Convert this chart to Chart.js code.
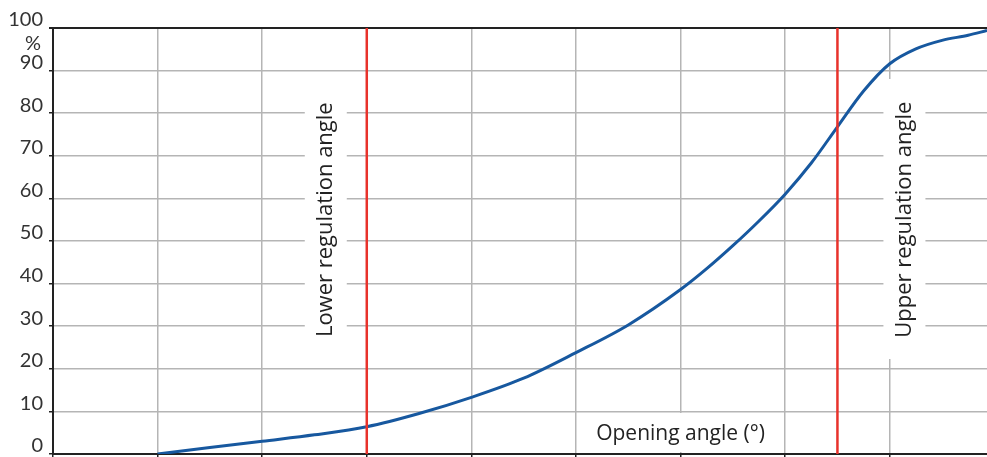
<!DOCTYPE html>
<html>
<head>
<meta charset="utf-8">
<script src="https://cdn.jsdelivr.net/npm/chart.js@4"></script>
<style>
  html, body { margin: 0; padding: 0; background: #fff; }
</style>
</head>
<body>
<canvas id="chart" width="987" height="457"></canvas>
<script>
// Opening angle (deg) vs flow (%)
const angles = [10, 20, 25, 30, 35, 40, 45, 50, 55, 60, 62.5, 65, 67.5, 70, 72.5, 75, 77.5, 80, 82.5, 85, 87.5, 89.3];
const flow   = [0, 3.0, 4.5, 6.4, 9.5, 13.3, 17.8, 23.8, 30.3, 38.6, 43.5, 48.9, 54.7, 61.0, 68.3, 76.8, 85.2, 91.6, 95.1, 97.1, 98.3, 99.4];

const yTicks = [0, 10, 20, 30, 40, 50, 60, 70, 80, 90, 100];
const xGrid = [0, 10, 20, 30, 40, 50, 60, 70, 80];
const lowerAngle = 30;
const upperAngle = 75;

const tickFont = 'Lato';

// white-backed labels drawn on top of the grid
const labelsPlugin = {
  id: 'labels',
  beforeDatasetsDraw(chart) {
    const ctx = chart.ctx;
    const xs = chart.scales.x, ys = chart.scales.y;
    ctx.save();

    function vLabel(text, cx) {
      ctx.fillStyle = '#fff';
      ctx.fillRect(cx - 21, 79, 42, 280);
      ctx.save();
      ctx.translate(cx, ys.getPixelForValue(55));
      ctx.rotate(-Math.PI / 2);
      ctx.fillStyle = '#222';
      ctx.font = '22px "Open Sans"';
      ctx.textAlign = 'center';
      ctx.textBaseline = 'middle';
      ctx.fillText(text, 0, 0);
      ctx.restore();
    }
    vLabel('Lower regulation angle', xs.getPixelForValue(lowerAngle) - 41);
    vLabel('Upper regulation angle', xs.getPixelForValue(upperAngle) + 67);

    // x axis title inside the plot
    const cx = xs.getPixelForValue(60);
    ctx.fillStyle = '#fff';
    ctx.fillRect(cx - 96, 413, 192, 39);
    ctx.fillStyle = '#222';
    ctx.font = '21px "Open Sans"';
    ctx.textAlign = 'center';
    ctx.textBaseline = 'middle';
    ctx.fillText('Opening angle (\u00b0)', cx, 434);

    // unit under the top tick
    ctx.font = '20px ' + tickFont;
    ctx.fillStyle = '#333';
    ctx.fillText('%', 33, 44);
    ctx.restore();
  }
};

new Chart(document.getElementById('chart'), {
  type: 'line',
  data: {
    datasets: [
      {
        data: [{ x: lowerAngle, y: 0 }, { x: lowerAngle, y: 100 }],
        borderColor: '#e8322b',
        borderWidth: 2.5,
        pointRadius: 0,
        order: 0
      },
      {
        data: [{ x: upperAngle, y: 0 }, { x: upperAngle, y: 100 }],
        borderColor: '#e8322b',
        borderWidth: 2.5,
        pointRadius: 0,
        order: 0
      },
      {
        data: angles.map((a, i) => ({ x: a, y: flow[i] })),
        borderColor: '#17589f',
        borderWidth: 3,
        pointRadius: 0,
        cubicInterpolationMode: 'monotone',
        order: 1
      }
    ]
  },
  options: {
    responsive: false,
    animation: false,
    layout: { padding: { top: 28, left: 0, right: 0, bottom: 0 } },
    plugins: {
      legend: { display: false },
      tooltip: { enabled: false }
    },
    scales: {
      x: {
        type: 'linear',
        min: 0,
        max: 89.3,
        afterBuildTicks: s => { s.ticks = xGrid.map(v => ({ value: v })); },
        afterFit: s => { s.height = 3; s.paddingLeft = 0; s.paddingRight = 0; },
        ticks: { display: false },
        grid: { color: '#b5b5b5', lineWidth: 1.5, tickLength: 3, tickColor: '#222' },
        border: { color: '#222', width: 2 }
      },
      y: {
        min: 0,
        max: 100,
        afterBuildTicks: s => { s.ticks = yTicks.map(v => ({ value: v })); },
        afterFit: s => { s.width = 53; s.paddingTop = 0; s.paddingBottom = 0; },
        ticks: {
          padding: 6,
          labelOffset: -8,
          color: '#333',
          font: { family: tickFont, size: 20 }
        },
        grid: {
          color: c => c.tick && c.tick.value === 100 ? '#222' : '#b5b5b5',
          lineWidth: c => c.tick && c.tick.value === 100 ? 2 : 1.5,
          tickLength: 4,
          tickColor: '#222'
        },
        border: { color: '#222', width: 2 }
      }
    }
  },
  plugins: [labelsPlugin]
});
</script>
</body>
</html>
